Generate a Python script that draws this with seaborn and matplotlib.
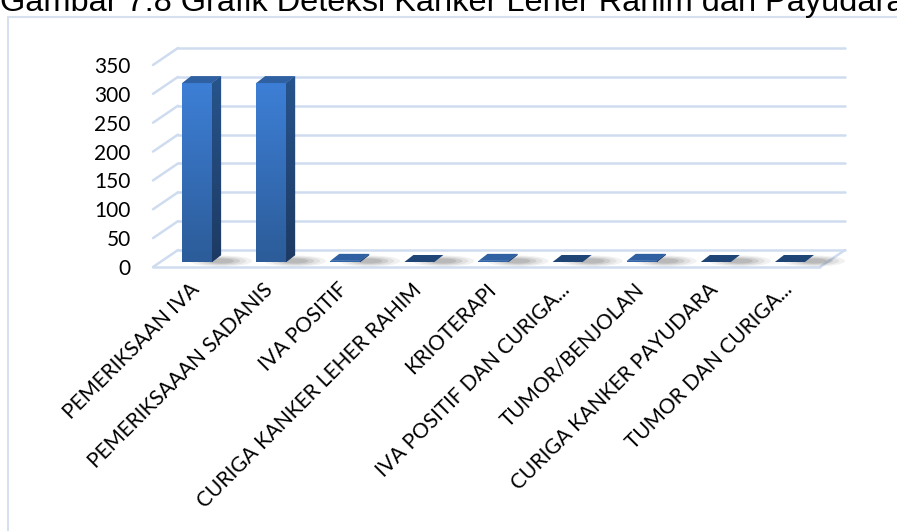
import numpy as np
import matplotlib
matplotlib.use("Agg")
import matplotlib.pyplot as plt
import seaborn as sns
import pandas as pd
from matplotlib.transforms import ScaledTranslation
from matplotlib.patches import Polygon, Rectangle, Ellipse
from matplotlib.colors import LinearSegmentedColormap

# ---------------- data ----------------
categories = [
    "PEMERIKSAAN IVA",
    "PEMERIKSAAAN SADANIS",
    "IVA POSITIF",
    "CURIGA KANKER LEHER RAHIM",
    "KRIOTERAPI",
    "IVA POSITIF DAN CURIGA...",
    "TUMOR/BENJOLAN",
    "CURIGA KANKER PAYUDARA",
    "TUMOR DAN CURIGA...",
]
values = [310, 310, 2, 0, 2, 0, 2, 0, 0]
y_ticks = [0, 50, 100, 150, 200, 250, 300, 350]
title = "Gambar 7.8 Grafik Deteksi Kanker Leher Rahim dan Payudara"

# ---------------- style ----------------
sns.set_theme(style="white")
plt.rcParams['font.family'] = ['Lato', 'DejaVu Sans']

W, H = 897, 531
fig = plt.figure(figsize=(W / 100, H / 100), dpi=100)
fig.patch.set_facecolor('white')


def fx(p):
    return p / W


def fy(p):
    return 1 - p / H


# outer chart frame (cut off at right and bottom)
fig.patches.append(Rectangle((fx(8), fy(600)), fx(1000), (600 - 17) / H,
                             transform=fig.transFigure, fill=False,
                             ec='#d6e0ee', lw=1.5))

# title (partly cut at top, as in the source page)
fig.text(fx(0), fy(11), title, family=['Liberation Sans', 'DejaVu Sans'],
         fontsize=23.4, va='baseline', ha='left', color='black')

ax = fig.add_axes([fx(153), fy(267), (820 - 153) / W, (267 - 65) / H])
df = pd.DataFrame({'cat': categories, 'val': values})
sns.barplot(data=df, x='cat', y='val', ax=ax, width=0.405, color='#3468aa',
            saturation=1, zorder=5)
ax.set_xlim(-0.5, len(categories) - 0.5)
ax.set_ylim(0, 350)
ax.set_yticks(y_ticks)
ax.set_xlabel('')
ax.set_ylabel('')
for s in ax.spines.values():
    s.set_visible(False)
ax.grid(False)
ax.patch.set_alpha(0)

ax.tick_params(axis='y', length=0, pad=16, labelsize=15, labelcolor='black')
ax.tick_params(axis='x', length=0, pad=9, labelsize=15, labelcolor='black')
ax.set_xticks(range(len(categories)))
ax.set_xticklabels(categories, rotation=45, ha='right', rotation_mode='anchor')


def off(dx, dy):
    return ScaledTranslation(dx / 100, dy / 100, fig.dpi_scale_trans)


for lbl in ax.get_xticklabels():
    lbl.set_transform(lbl.get_transform() + off(-1, 0))

inv = fig.transFigure.inverted()
D = np.array([25.0, 17.0])   # depth of the floor (front -> back)
F = np.array([7.0, 5.0])     # bar front face depth
S = np.array([9.0, 7.0])     # bar thickness
grid_c = '#cfdcf0'

x0l, x0r = ax.get_xlim()


def fig_line(pts, **kw):
    p = inv.transform(np.array(pts))
    ax.plot(p[:, 0], p[:, 1], transform=fig.transFigure, clip_on=False, **kw)


for yv in y_ticks:
    p = ax.transData.transform((x0l, yv))
    q = ax.transData.transform((x0r, yv))
    fig_line([p + D, q + D], color=grid_c, lw=1.8, zorder=0)
    fig_line([p, p + D], color=grid_c, lw=1.8, zorder=0)
    if yv == 0:
        fig_line([p, q], color=grid_c, lw=1.8, zorder=0)
        fig_line([q, q + D], color=grid_c, lw=1.8, zorder=0)

front_cmap = LinearSegmentedColormap.from_list('f', ['#3d7fd6', '#2c5c99'])
side_cmap = LinearSegmentedColormap.from_list('s', ['#27548c', '#1d3a63'])

grad = np.linspace(0, 1, 64).reshape(-1, 1)

for patch in list(ax.patches):
    x0 = patch.get_x()
    w = patch.get_width()
    h = patch.get_height()
    tr_front = ax.transData + off(F[0], F[1])
    patch.set_transform(tr_front)
    patch.set_edgecolor('none')

    bl = ax.transData.transform((x0, 0)) + F
    br = ax.transData.transform((x0 + w, 0)) + F
    tl = ax.transData.transform((x0, h)) + F
    trr = ax.transData.transform((x0 + w, h)) + F

    # soft shadow on the floor
    for ew, eh, a in [(62, 11, 0.07), (50, 9, 0.09), (38, 7, 0.12), (26, 5, 0.14)]:
        c = inv.transform(br + np.array([9, 1]))
        e = Ellipse(c, ew / W, eh / H, transform=fig.transFigure,
                    color='#404040', alpha=a, lw=0, zorder=1, clip_on=False)
        ax.add_patch(e)

    if h > 0.5:
        im = ax.imshow(grad, cmap=front_cmap, aspect='auto',
                       extent=(x0, x0 + w, 0, h), transform=tr_front,
                       zorder=6, interpolation='bilinear')
        im.set_clip_path(patch)
        side = Polygon(inv.transform(np.array([br, trr, trr + S, br + S])),
                       closed=True, transform=fig.transFigure,
                       fc='#22467a', ec='none', zorder=6, clip_on=False)
        ax.add_patch(side)
        bb = inv.transform(np.array([br, trr + S]))
        sim = ax.imshow(grad, cmap=side_cmap, aspect='auto',
                        extent=(bb[0, 0], bb[1, 0], bb[0, 1], bb[1, 1]),
                        transform=fig.transFigure, zorder=6,
                        interpolation='bilinear')
        sim.set_clip_path(side)
        top_c = '#2f61a2'
    else:
        top_c = '#2e62a4' if h > 0 else '#1f4476'

    top = Polygon(inv.transform(np.array([tl, trr, trr + S, tl + S])),
                  closed=True, transform=fig.transFigure,
                  fc=top_c, ec='none', zorder=7, clip_on=False)
    ax.add_patch(top)

ax.set_xlim(x0l, x0r)
ax.set_ylim(0, 350)

fig.savefig('out.png', dpi=100, facecolor='white')
